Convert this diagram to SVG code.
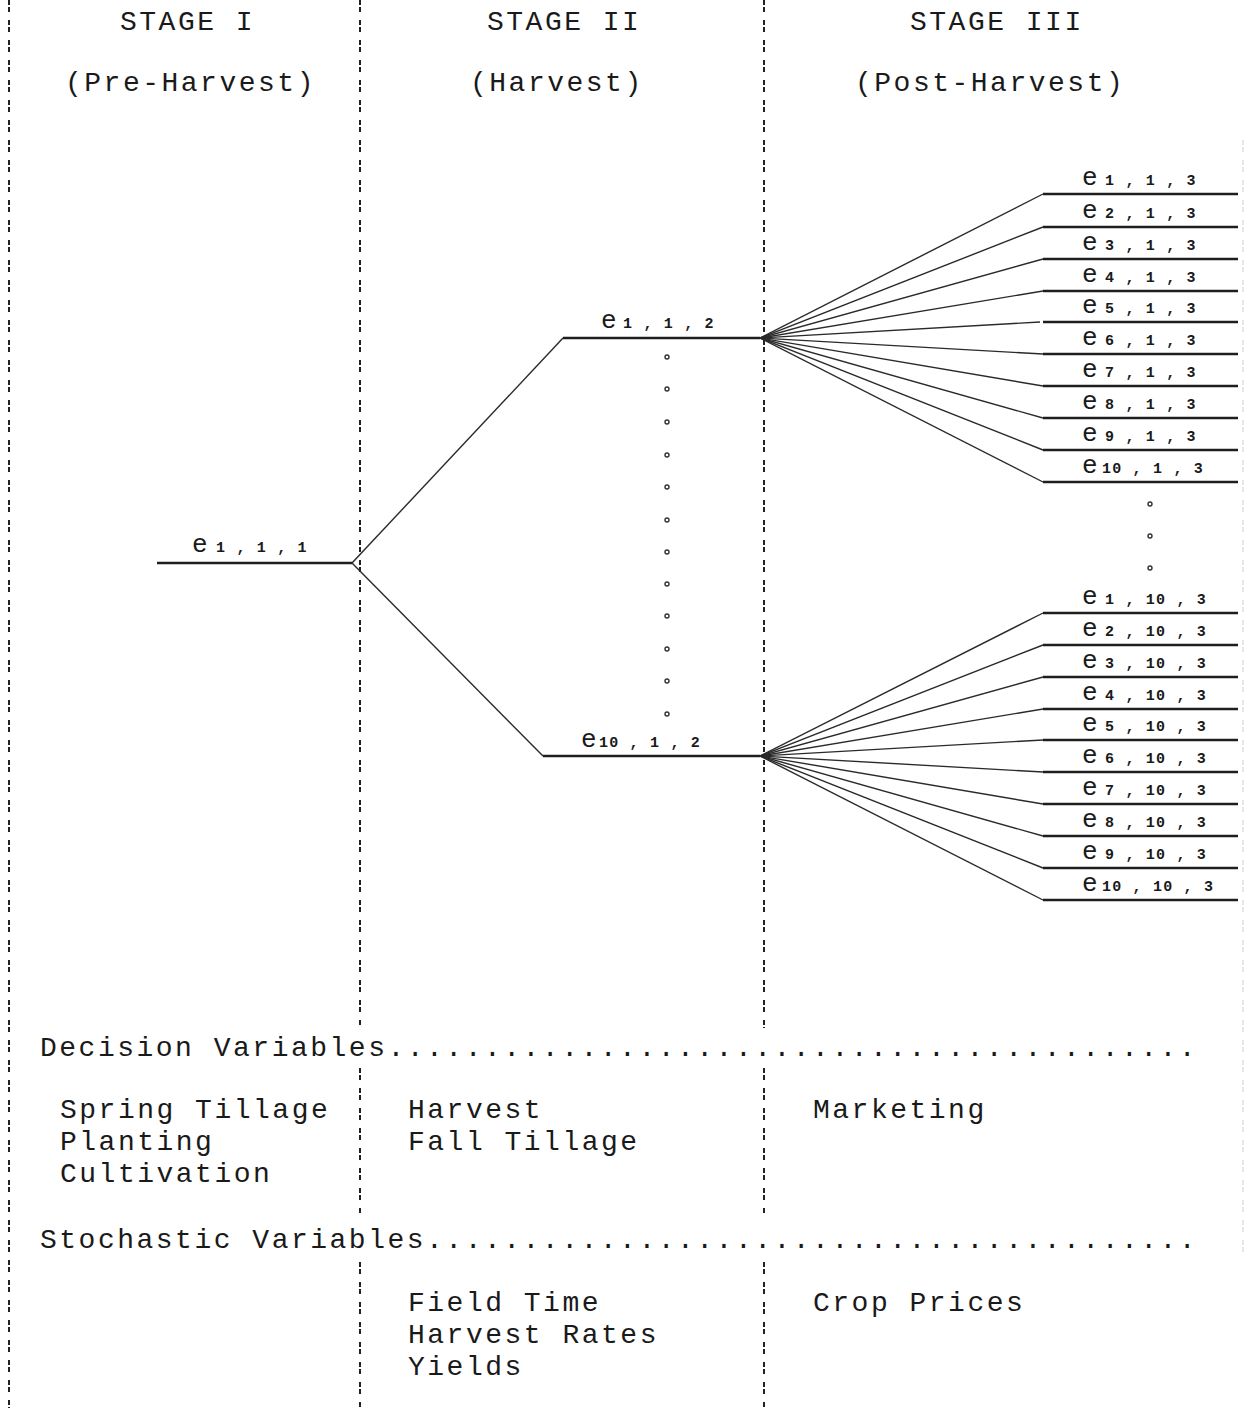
<svg xmlns="http://www.w3.org/2000/svg" width="1245" height="1408" viewBox="0 0 1245 1408">
<style>
.t{font-family:"Liberation Mono","DejaVu Sans Mono",monospace;font-size:28px;letter-spacing:2.5px;fill:#1a1a1a}
.e{font-family:"Liberation Mono","DejaVu Sans Mono",monospace;font-size:26px;fill:#1a1a1a}
.s{font-family:"Liberation Mono","DejaVu Sans Mono",monospace;font-size:15px;font-weight:bold;letter-spacing:1.2px;fill:#1a1a1a}
.sep{stroke:#222;stroke-width:2;stroke-dasharray:5 2 5 8;fill:none}
.faint{stroke:#d8d8d8;stroke-width:1.2;stroke-dasharray:5 2 5 8;fill:none}
.h{stroke:#1e1e1e;stroke-width:2.4;fill:none}
.c{stroke:#2a2a2a;stroke-width:1.4;fill:none}
.dot{fill:none;stroke:#333;stroke-width:1.4}
</style>
<rect width="1245" height="1408" fill="#fff"/>

<g id="separators">
<line class="sep" x1="9" y1="0" x2="9" y2="1408"/>
<line class="sep" x1="360" y1="0" x2="360" y2="1026"/>
<line class="sep" x1="360" y1="1068" x2="360" y2="1214"/>
<line class="sep" x1="360" y1="1262" x2="360" y2="1408"/>
<line class="sep" x1="764" y1="0" x2="764" y2="1028"/>
<line class="sep" x1="764" y1="1068" x2="764" y2="1215"/>
<line class="sep" x1="764" y1="1262" x2="764" y2="1408"/>
<line class="faint" x1="1243" y1="140" x2="1243" y2="1260"/>
</g>

<g id="headings">
<text class="t" x="120" y="30">STAGE I</text>
<text class="t" x="65" y="91">(Pre-Harvest)</text>
<text class="t" x="487" y="30">STAGE II</text>
<text class="t" x="470" y="91">(Harvest)</text>
<text class="t" x="910" y="30">STAGE III</text>
<text class="t" x="855" y="91">(Post-Harvest)</text>
</g>

<g id="connectors">
<line class="c" x1="352" y1="563" x2="563" y2="338"/>
<line class="c" x1="352" y1="563" x2="543" y2="756"/>
<line class="c" x1="760" y1="338" x2="1043" y2="194"/>
<line class="c" x1="760" y1="338" x2="1043" y2="227"/>
<line class="c" x1="760" y1="338" x2="1043" y2="259"/>
<line class="c" x1="760" y1="338" x2="1043" y2="291"/>
<line class="c" x1="760" y1="338" x2="1040" y2="322"/>
<line class="c" x1="760" y1="338" x2="1043" y2="354"/>
<line class="c" x1="760" y1="338" x2="1043" y2="386"/>
<line class="c" x1="760" y1="338" x2="1043" y2="418"/>
<line class="c" x1="760" y1="338" x2="1043" y2="450"/>
<line class="c" x1="760" y1="338" x2="1043" y2="482"/>
<line class="c" x1="760" y1="756" x2="1043" y2="613"/>
<line class="c" x1="760" y1="756" x2="1043" y2="645"/>
<line class="c" x1="760" y1="756" x2="1043" y2="677"/>
<line class="c" x1="760" y1="756" x2="1043" y2="709"/>
<line class="c" x1="760" y1="756" x2="1043" y2="740"/>
<line class="c" x1="760" y1="756" x2="1043" y2="772"/>
<line class="c" x1="760" y1="756" x2="1043" y2="804"/>
<line class="c" x1="760" y1="756" x2="1043" y2="836"/>
<line class="c" x1="760" y1="756" x2="1043" y2="868"/>
<line class="c" x1="760" y1="756" x2="1043" y2="900"/>
</g>

<g id="n-e1-1-1"><line class="h" x1="157" y1="563" x2="352" y2="563"/><text x="192" y="552"><tspan class="e">e</tspan><tspan class="s" x="216">1 , 1 , 1</tspan></text></g>
<g id="n-e1-1-2"><line class="h" x1="563" y1="338" x2="760" y2="338"/><text x="601" y="328"><tspan class="e">e</tspan><tspan class="s" x="623">1 , 1 , 2</tspan></text></g>
<g id="n-e10-1-2"><line class="h" x1="543" y1="756" x2="760" y2="756"/><text x="581" y="747"><tspan class="e">e</tspan><tspan class="s" x="599">10 , 1 , 2</tspan></text></g>

<g id="ellipsis-stage2">
<circle class="dot" cx="667" cy="357" r="2"/><circle class="dot" cx="667" cy="389" r="2"/><circle class="dot" cx="667" cy="422" r="2"/><circle class="dot" cx="667" cy="455" r="2"/><circle class="dot" cx="667" cy="487" r="2"/><circle class="dot" cx="667" cy="520" r="2"/><circle class="dot" cx="667" cy="552" r="2"/><circle class="dot" cx="667" cy="584" r="2"/><circle class="dot" cx="667" cy="616" r="2"/><circle class="dot" cx="667" cy="649" r="2"/><circle class="dot" cx="667" cy="681" r="2"/><circle class="dot" cx="667" cy="714" r="2"/>
</g>
<g id="ellipsis-stage3">
<circle class="dot" cx="1150" cy="504" r="2"/><circle class="dot" cx="1150" cy="536" r="2"/><circle class="dot" cx="1150" cy="568" r="2"/>
</g>

<g id="n-e1-1-3"><line class="h" x1="1043" y1="194" x2="1238" y2="194"/><text x="1082" y="185"><tspan class="e">e</tspan><tspan class="s" x="1105">1 , 1 , 3</tspan></text></g>
<g id="n-e2-1-3"><line class="h" x1="1043" y1="227" x2="1238" y2="227"/><text x="1082" y="218"><tspan class="e">e</tspan><tspan class="s" x="1105">2 , 1 , 3</tspan></text></g>
<g id="n-e3-1-3"><line class="h" x1="1043" y1="259" x2="1238" y2="259"/><text x="1082" y="250"><tspan class="e">e</tspan><tspan class="s" x="1105">3 , 1 , 3</tspan></text></g>
<g id="n-e4-1-3"><line class="h" x1="1043" y1="291" x2="1238" y2="291"/><text x="1082" y="282"><tspan class="e">e</tspan><tspan class="s" x="1105">4 , 1 , 3</tspan></text></g>
<g id="n-e5-1-3"><line class="h" x1="1043" y1="322" x2="1238" y2="322"/><text x="1082" y="313"><tspan class="e">e</tspan><tspan class="s" x="1105">5 , 1 , 3</tspan></text></g>
<g id="n-e6-1-3"><line class="h" x1="1043" y1="354" x2="1238" y2="354"/><text x="1082" y="345"><tspan class="e">e</tspan><tspan class="s" x="1105">6 , 1 , 3</tspan></text></g>
<g id="n-e7-1-3"><line class="h" x1="1043" y1="386" x2="1238" y2="386"/><text x="1082" y="377"><tspan class="e">e</tspan><tspan class="s" x="1105">7 , 1 , 3</tspan></text></g>
<g id="n-e8-1-3"><line class="h" x1="1043" y1="418" x2="1238" y2="418"/><text x="1082" y="409"><tspan class="e">e</tspan><tspan class="s" x="1105">8 , 1 , 3</tspan></text></g>
<g id="n-e9-1-3"><line class="h" x1="1043" y1="450" x2="1238" y2="450"/><text x="1082" y="441"><tspan class="e">e</tspan><tspan class="s" x="1105">9 , 1 , 3</tspan></text></g>
<g id="n-e10-1-3"><line class="h" x1="1043" y1="482" x2="1238" y2="482"/><text x="1082" y="473"><tspan class="e">e</tspan><tspan class="s" x="1102">10 , 1 , 3</tspan></text></g>

<g id="n-e1-10-3"><line class="h" x1="1043" y1="613" x2="1238" y2="613"/><text x="1082" y="604"><tspan class="e">e</tspan><tspan class="s" x="1105">1 , 10 , 3</tspan></text></g>
<g id="n-e2-10-3"><line class="h" x1="1043" y1="645" x2="1238" y2="645"/><text x="1082" y="636"><tspan class="e">e</tspan><tspan class="s" x="1105">2 , 10 , 3</tspan></text></g>
<g id="n-e3-10-3"><line class="h" x1="1043" y1="677" x2="1238" y2="677"/><text x="1082" y="668"><tspan class="e">e</tspan><tspan class="s" x="1105">3 , 10 , 3</tspan></text></g>
<g id="n-e4-10-3"><line class="h" x1="1043" y1="709" x2="1238" y2="709"/><text x="1082" y="700"><tspan class="e">e</tspan><tspan class="s" x="1105">4 , 10 , 3</tspan></text></g>
<g id="n-e5-10-3"><line class="h" x1="1043" y1="740" x2="1238" y2="740"/><text x="1082" y="731"><tspan class="e">e</tspan><tspan class="s" x="1105">5 , 10 , 3</tspan></text></g>
<g id="n-e6-10-3"><line class="h" x1="1043" y1="772" x2="1238" y2="772"/><text x="1082" y="763"><tspan class="e">e</tspan><tspan class="s" x="1105">6 , 10 , 3</tspan></text></g>
<g id="n-e7-10-3"><line class="h" x1="1043" y1="804" x2="1238" y2="804"/><text x="1082" y="795"><tspan class="e">e</tspan><tspan class="s" x="1105">7 , 10 , 3</tspan></text></g>
<g id="n-e8-10-3"><line class="h" x1="1043" y1="836" x2="1238" y2="836"/><text x="1082" y="827"><tspan class="e">e</tspan><tspan class="s" x="1105">8 , 10 , 3</tspan></text></g>
<g id="n-e9-10-3"><line class="h" x1="1043" y1="868" x2="1238" y2="868"/><text x="1082" y="859"><tspan class="e">e</tspan><tspan class="s" x="1105">9 , 10 , 3</tspan></text></g>
<g id="n-e10-10-3"><line class="h" x1="1043" y1="900" x2="1238" y2="900"/><text x="1082" y="891"><tspan class="e">e</tspan><tspan class="s" x="1102">10 , 10 , 3</tspan></text></g>

<g id="decision">
<text class="t" x="40" y="1056">Decision Variables..........................................</text>
<text class="t" x="60" y="1118">Spring Tillage</text>
<text class="t" x="60" y="1150">Planting</text>
<text class="t" x="60" y="1182">Cultivation</text>
<text class="t" x="408" y="1118">Harvest</text>
<text class="t" x="408" y="1150">Fall Tillage</text>
<text class="t" x="813" y="1118">Marketing</text>
</g>
<g id="stochastic">
<text class="t" x="40" y="1248">Stochastic Variables........................................</text>
<text class="t" x="408" y="1311">Field Time</text>
<text class="t" x="408" y="1343">Harvest Rates</text>
<text class="t" x="408" y="1375">Yields</text>
<text class="t" x="813" y="1311">Crop Prices</text>
</g>
</svg>
